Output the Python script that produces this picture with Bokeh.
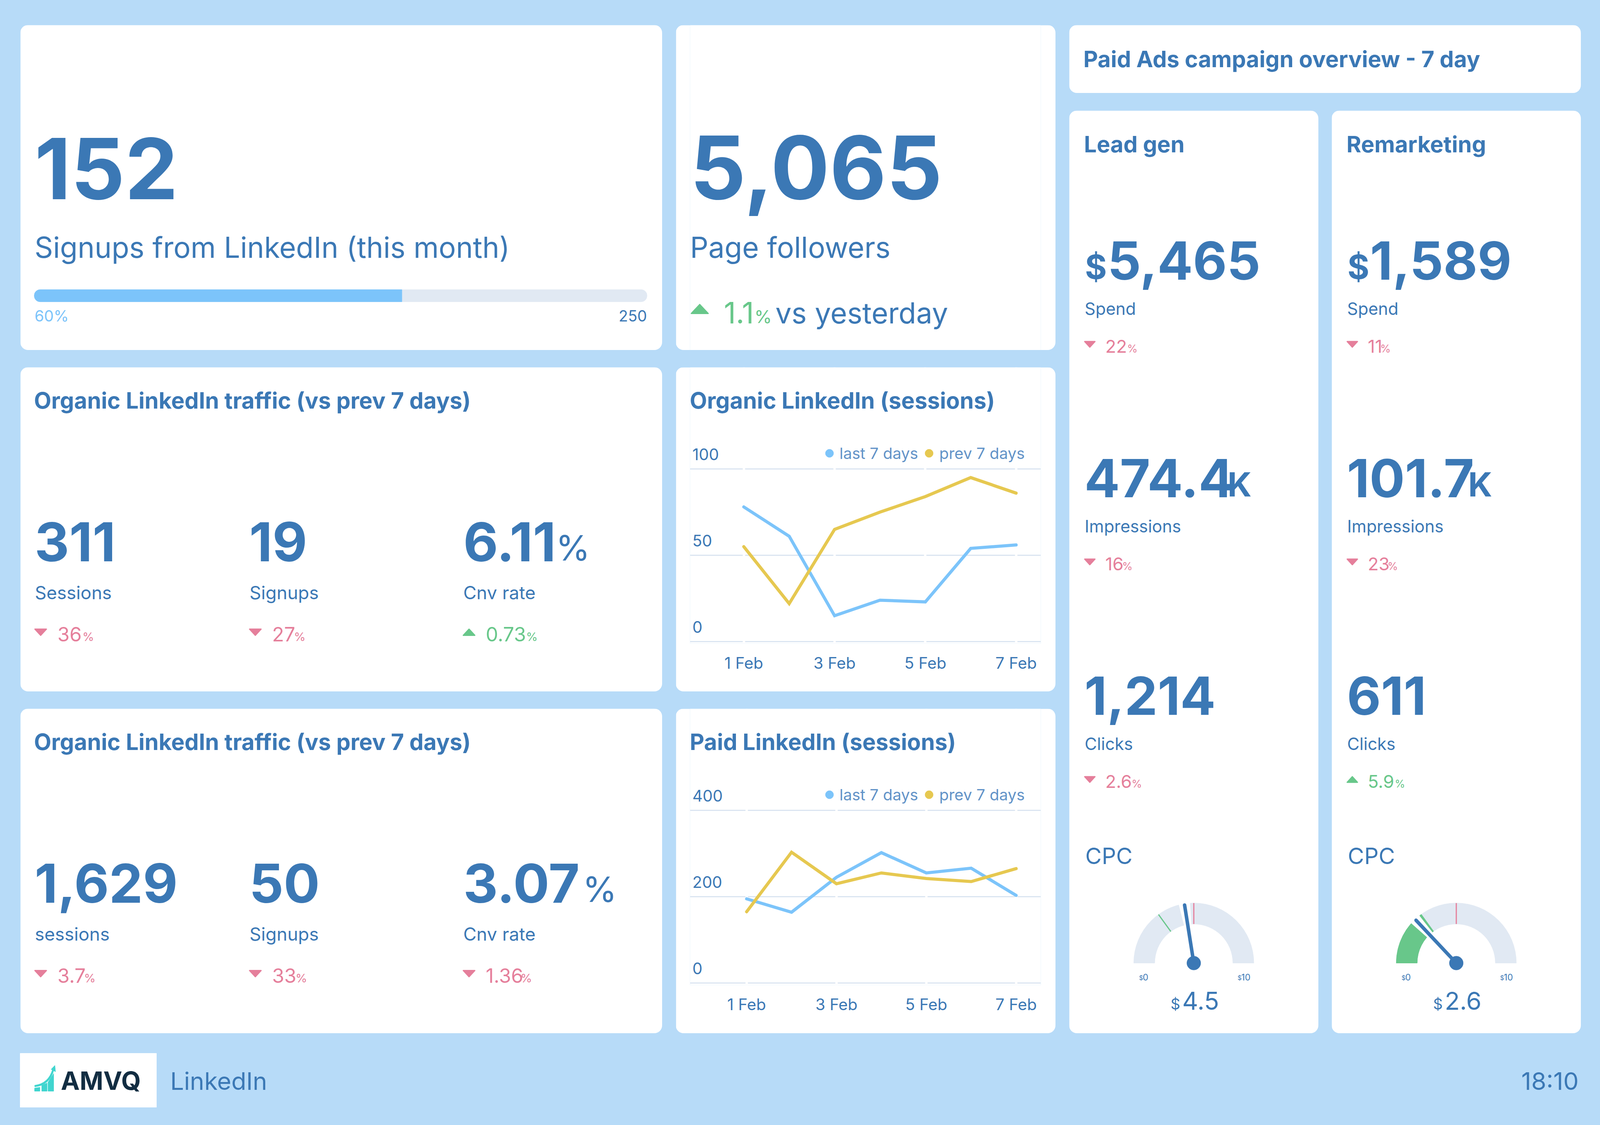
import math
from bokeh.embed import file_html
from bokeh.resources import INLINE
from bokeh.plotting import figure, curdoc
from bokeh.layouts import row, column
from bokeh.models import Label, Range1d, FixedTicker, Legend, LegendItem, CustomJS, LinearAxis

# ---------- data ----------
days = [1, 2, 3, 4, 5, 6, 7]
day_ticks = [1, 3, 5, 7]
day_tick_labels = ["1 Feb", "3 Feb", "5 Feb", "7 Feb"]
legend_labels = ["last 7 days", "prev 7 days"]

organic_last = [78, 61, 15, 24, 23, 54, 56]
organic_prev = [55, 22, 65, 75, 84, 95, 86]
organic_ticks = [0, 50, 100]

paid_last = [195, 164, 245, 302, 255, 266, 203]
paid_prev = [165, 303, 230, 255, 242, 235, 265]
paid_ticks = [0, 200, 400]

signups_value = "152"
signups_label = "Signups from LinkedIn (this month)"
signups_share = 0.60
signups_share_label = "60%"
signups_target = "250"

followers_value = "5,065"
followers_label = "Page followers"
followers_delta = "1.1"

organic_kpi_values = ["311", "19", "6.11"]
organic_kpi_labels = ["Sessions", "Signups", "Cnv rate"]
organic_kpi_deltas = ["36", "27", "0.73"]
organic_kpi_up = [False, False, True]

total_kpi_values = ["1,629", "50", "3.07"]
total_kpi_labels = ["sessions", "Signups", "Cnv rate"]
total_kpi_deltas = ["3.7", "33", "1.36"]
total_kpi_up = [False, False, False]

lead_values = ["5,465", "474.4", "1,214"]
lead_deltas = ["22", "16", "2.6"]
lead_up = [False, False, False]
remarket_values = ["1,589", "101.7", "611"]
remarket_deltas = ["11", "23", "5.9"]
remarket_up = [False, False, True]
ads_labels = ["Spend", "Impressions", "Clicks"]

lead_cpc = 4.5
remarket_cpc = 2.6
lead_cpc_fill = 0
remarket_cpc_fill = 3
cpc_target = 3
cpc_mid = 5
cpc_max = 10

# ---------- style ----------
BG = "#b7dbf8"
BLUE = "#3b78b5"
SKY = "#7cc4fa"
YEL = "#e6c850"
GREEN = "#68c78a"
PINK = "#e57f9b"
TRACK = "#e1e9f3"
GRIDC = "#dbe5f1"
LEG = "#6293c8"
FONT = "Inter"
FS = 0.8            # the browser window is 4096 wide: the width and all glyphs are at 0.8
KB = 0.33           # Label baseline correction, in em


def W(a, b):
    return round(b * FS) - round(a * FS)


def base_fig(x0, y0, x1, y1, radius=20, **kw):
    args = dict(width=W(x0, x1), height=y1 - y0, output_backend="svg", toolbar_location=None,
                min_border=0, outline_line_color=None, background_fill_color="white",
                border_fill_color="white")
    args.update(kw)
    p = figure(**args)
    if radius:
        p.styles = {"border-radius": f"{radius}px", "overflow": "hidden"}
    return p


def card(x0, y0, x1, y1, radius=20, fill="white", fx0=None, fx1=None):
    fx0 = x0 if fx0 is None else fx0
    fx1 = x1 if fx1 is None else fx1
    p = base_fig(x0, y0, x1, y1, radius=radius,
                 x_range=Range1d(fx0, fx1), y_range=Range1d(y1, y0),
                 min_border_left=W(x0, fx0), min_border_right=W(fx1, x1),
                 background_fill_color=fill, border_fill_color=fill)
    p.axis.visible = False
    p.grid.visible = False
    return p


def txt(p, x, y, s, size, color=BLUE, bold=False, align="left", rng=None):
    kw = {}
    if rng:
        kw = dict(x_range_name=rng[0], y_range_name=rng[1])
    px = size * FS
    p.add_layout(Label(x=x, y=y - KB * px, text=s, text_font=FONT, text_font_size=f"{px:.1f}px",
                       text_color=color, text_font_style="bold" if bold else "normal",
                       text_align=align, text_baseline="alphabetic", **kw))


def tri(p, x0, x1, y0, y1, up, color):
    m = (x0 + x1) / 2
    c = (y0 + y1) / 2
    h = (y1 - y0) / 2 * FS
    if up:
        xs, ys = [x0, m, x1], [c + h, c - h, c + h]
    else:
        xs, ys = [x0, m, x1], [c - h, c + h, c - h]
    p.patch(xs, ys, fill_color=color, line_color=color, line_width=3, line_join="round")


def delta(p, tx0, tx1, ty0, ty1, vx, px, base, value, up, vsize=63, psize=38):
    c = GREEN if up else PINK
    tri(p, tx0, tx1, ty0, ty1, up, c)
    txt(p, vx, base, value, vsize, c)
    txt(p, px, base, "%", psize, c)


# ---------- top-left ----------
a1 = card(65, 64, 2119, 896)
txt(a1, 110, 502, signups_value, 270, bold=True)
txt(a1, 110, 657, signups_label, 92)
bx0, bx1, by = 109, 2070, 756.5
a1.hbar(y=[by], left=[bx0], right=[bx1], height=39 * FS, color=TRACK, border_radius=15)
a1.hbar(y=[by], left=[bx0], right=[bx0 + signups_share * (bx1 - bx0)], height=39 * FS, color=SKY,
        border_radius=(15, 0, 0, 15))
txt(a1, 110, 821, signups_share_label, 49, SKY)
txt(a1, 2070, 821, signups_target, 49, align="right")

# ---------- top-middle ----------
b1 = card(2162, 64, 3378, 896, fx0=2208, fx1=3330)
txt(b1, 2208, 502, followers_value, 280, bold=True)
txt(b1, 2208, 657, followers_label, 92)
tri(b1, 2212, 2266, 776, 805, True, GREEN)
txt(b1, 2316, 825, followers_delta, 95, GREEN)
txt(b1, 2414, 825, "%", 57, GREEN)
txt(b1, 2481, 825, "vs yesterday", 92)


# ---------- KPI cards ----------
def kpi_card(y0, y1, title, values, labels, deltas, ups, pct_x, big_pct_x):
    p = card(65, y0, 2119, y1)
    off = y0 - 940
    txt(p, 108, 1044 + off, title, 72, bold=True)
    xs = [110, 797, 1482]
    lx = [111, 798, 1482]
    for i in range(3):
        txt(p, xs[i], 1432 + off, values[i], 172, bold=True)
        txt(p, lx[i], 1532 + off, labels[i], 58)
        delta(p, lx[i], lx[i] + 37, 1608 + off, 1628 + off,
              lx[i] + 72, pct_x[i], 1640 + off, deltas[i], ups[i])
    txt(p, big_pct_x, 1432 + off, "%", 112)
    return p


a2 = kpi_card(940, 1770, "Organic LinkedIn traffic (vs prev 7 days)", organic_kpi_values,
              organic_kpi_labels, organic_kpi_deltas, organic_kpi_up, [263, 940, 1683], 1778)
a3 = kpi_card(1814, 2645, "Organic LinkedIn traffic (vs prev 7 days)", total_kpi_values,
              total_kpi_labels, total_kpi_deltas, total_kpi_up, [268, 945, 1665], 1864)


# ---------- line charts ----------
def chart(y0, y1, title, last, prev, ticks, xfirst_px):
    x0, x1 = 2162, 3378
    fl, fr = 2208, 3330                  # grid line ends
    ygrid_top, ygrid_bot = y0 + 260, y0 + 702   # top / bottom grid lines
    ftop, fbot = y0, ygrid_bot + 5              # frame, holds title, legend and tick labels
    per_day = (3251 - xfirst_px) / 6.0
    xr = Range1d(1 + (fl - xfirst_px) / per_day, 7 + (fr - 3251) / per_day)
    unit = (ygrid_bot - ygrid_top) / float(ticks[-1])
    yr = Range1d(-(fbot - ygrid_bot) / unit, ticks[-1] + (ygrid_top - ftop) / unit)
    p = base_fig(x0, y0, x1, y1, x_range=xr, y_range=yr,
                 min_border_left=W(x0, fl), min_border_right=W(fr, x1),
                 min_border_top=0, min_border_bottom=y1 - fbot)
    p.extra_x_ranges = {"px": Range1d(fl, fr)}
    s = 38 / unit
    p.extra_y_ranges = {"py": Range1d(fbot, ftop), "ylab": Range1d(yr.start - s, yr.end - s)}

    p.ygrid.ticker = FixedTicker(ticks=ticks)
    p.ygrid.grid_line_color = GRIDC
    p.ygrid.grid_line_width = 3
    p.xgrid.ticker = FixedTicker(ticks=day_ticks)
    p.xgrid.grid_line_color = "white"
    p.xgrid.grid_line_width = 6
    p.center = [p.ygrid[0], p.xgrid[0]]

    txt(p, 2207, y0 + 104, title, 72, bold=True, rng=("px", "py"))

    p.yaxis.visible = False
    yax = LinearAxis(y_range_name="ylab", fixed_location=xr.start, ticker=FixedTicker(ticks=ticks),
                     major_label_standoff=0)
    p.add_layout(yax, "right")
    p.xaxis.ticker = FixedTicker(ticks=day_ticks)
    p.xaxis.major_label_overrides = dict(zip(day_ticks, day_tick_labels))
    for ax in (p.xaxis[0], yax):
        ax.axis_line_color = None
        ax.major_tick_line_color = None
        ax.minor_tick_line_color = None
        ax.major_label_text_font = FONT
        ax.major_label_text_font_size = f"{51 * FS:.1f}px"
        ax.major_label_text_color = BLUE
    p.xaxis.major_label_standoff = 18

    p.line(days, last, line_color=SKY, line_width=8, line_cap="round", line_join="miter")
    p.line(days, prev, line_color=YEL, line_width=8, line_cap="round", line_join="miter")
    s1 = p.scatter(days, last, size=0, color=SKY)
    s2 = p.scatter(days, prev, size=0, color=YEL)
    lg = Legend(items=[LegendItem(label=legend_labels[0], renderers=[s1]),
                       LegendItem(label=legend_labels[1], renderers=[s2])],
                orientation="horizontal", location=(331, fbot - (y0 + 246)),
                background_fill_alpha=0, border_line_color=None, padding=0, margin=0, spacing=2,
                glyph_width=52, glyph_height=52, label_standoff=-7, label_height=40,
                label_text_font=FONT, label_text_font_size=f"{50 * FS:.1f}px", label_text_color=LEG)
    p.add_layout(lg, "center")
    return p


b2 = chart(940, 1770, "Organic LinkedIn (sessions)", organic_last, organic_prev, organic_ticks, 2380)
b3 = chart(1814, 2645, "Paid LinkedIn (sessions)", paid_last, paid_prev, paid_ticks, 2389)

# ---------- right column ----------
c0 = card(3419, 64, 5056, 238)
txt(c0, 3464, 170, "Paid Ads campaign overview - 7 day", 72, bold=True)


def gauge(p, cx, cy, value, fill):
    R, r = 192, 125
    ang = lambda v: math.pi * (1 - v / cpc_max)
    p.annular_wedge([cx], [cy], r, R, 0, math.pi, color=TRACK, direction="anticlock")
    if fill:
        p.annular_wedge([cx], [cy], r, R, ang(fill), math.pi, color=GREEN, direction="anticlock")
    a = ang(value)
    hw = math.radians(5.2)
    p.wedge([cx], [cy], 198, a - hw, a + hw, color="white", direction="anticlock")
    for v, col in ((cpc_target, GREEN), (cpc_mid, PINK)):
        t = ang(v)
        p.line([cx + r * math.cos(t), cx + R * math.cos(t)],
               [cy - r * FS * math.sin(t), cy - R * FS * math.sin(t)], line_color=col, line_width=3)
    p.line([cx, cx + 188 * math.cos(a)], [cy, cy - 188 * FS * math.sin(a)],
           line_color=BLUE, line_width=9, line_cap="round")
    p.circle([cx], [cy], radius=22, color=BLUE)
    txt(p, cx - 175, cy + 43, "$", 20)
    txt(p, cx - 163, cy + 43, "0", 28)
    txt(p, cx + 140, cy + 43, "$", 20)
    txt(p, cx + 152, cy + 43, str(cpc_max), 28)
    txt(p, cx - 74, cy + 117, "$", 48)
    txt(p, cx - 37, cy + 117, f"{value}", 79)


def ads_card(x0, x1, title, values, deltas, ups, kx, pct_x, value, fill):
    p = card(x0, 283, x1, 2645)
    d = x0 - 3419
    txt(p, 3466 + d, 388, title, 72, bold=True)
    step = 557
    for i in range(3):
        o = i * step
        vx = 3467 + d
        if i == 0:
            txt(p, 3469 + d, 711, "$", 107, bold=True)
            vx = 3541 + d
        txt(p, vx, 711 + o, values[i], 168, bold=True)
        if i == 1:
            txt(p, kx, 711 + o, "K", 107, bold=True)
        txt(p, 3468 + d, 804 + o, ads_labels[i], 54)
        delta(p, 3468 + d, 3501 + d, 872 + o, 890 + o, 3534 + d, pct_x[i],
              901 + o, deltas[i], ups[i], vsize=57, psize=34)
    txt(p, 3470 + d, 2210, "CPC", 72)
    gauge(p, 3817 + d, 2465, value, fill)
    return p


c1 = ads_card(3419, 4216, "Lead gen", lead_values, lead_deltas, lead_up, 3925,
              [3604, 3588, 3618], lead_cpc, lead_cpc_fill)
c2 = ads_card(4259, 5056, "Remarketing", remarket_values, remarket_deltas, remarket_up, 4695,
              [4414, 4437, 4460], remarket_cpc, remarket_cpc_fill)

# ---------- footer ----------
f = base_fig(0, 2645, 5120, 2880, radius=0, x_range=Range1d(0, 5120), y_range=Range1d(2880, 2645),
             background_fill_color=BG, border_fill_color=BG)
f.axis.visible = False
f.grid.visible = False
f.quad(left=[64], right=[500], top=[2696], bottom=[2834], color="white")
TEAL = "#40d5cf"
f.patches([[110, 127, 127, 110], [133, 150, 150, 133], [153, 171, 171, 153]],
          [[2793, 2793, 2783, 2785], [2793, 2793, 2772, 2778], [2793, 2793, 2748, 2770]], color=TEAL)
f.bezier([110], [2780], [170], [2737], [152], [2776], [165], [2752], line_color=TEAL, line_width=5)
f.patch([163, 175, 177], [2737, 2727, 2743], color=TEAL)
txt(f, 194, 2787, "AMVQ", 81, "#122d42", bold=True)
txt(f, 544, 2788, "LinkedIn", 78)
txt(f, 5051, 2788, "18:10", 78, align="right")

left = column(a1, a2, a3, spacing=44)
mid = column(b1, b2, b3, spacing=44)
right = column(c0, row(c1, c2, spacing=W(4216, 4259)), spacing=45)
top = row(left, mid, right, spacing=W(2119, 2162), margin=(64, 0, 0, round(65 * FS)))
root = column(top, f, spacing=0, width=4096, height=2880, styles={"background-color": BG})

doc = curdoc()
doc.add_root(root)
doc.js_on_event("document_ready", CustomJS(code=f"document.body.style.background='{BG}';"))

open("out.html", "w").write(file_html(root, INLINE))
